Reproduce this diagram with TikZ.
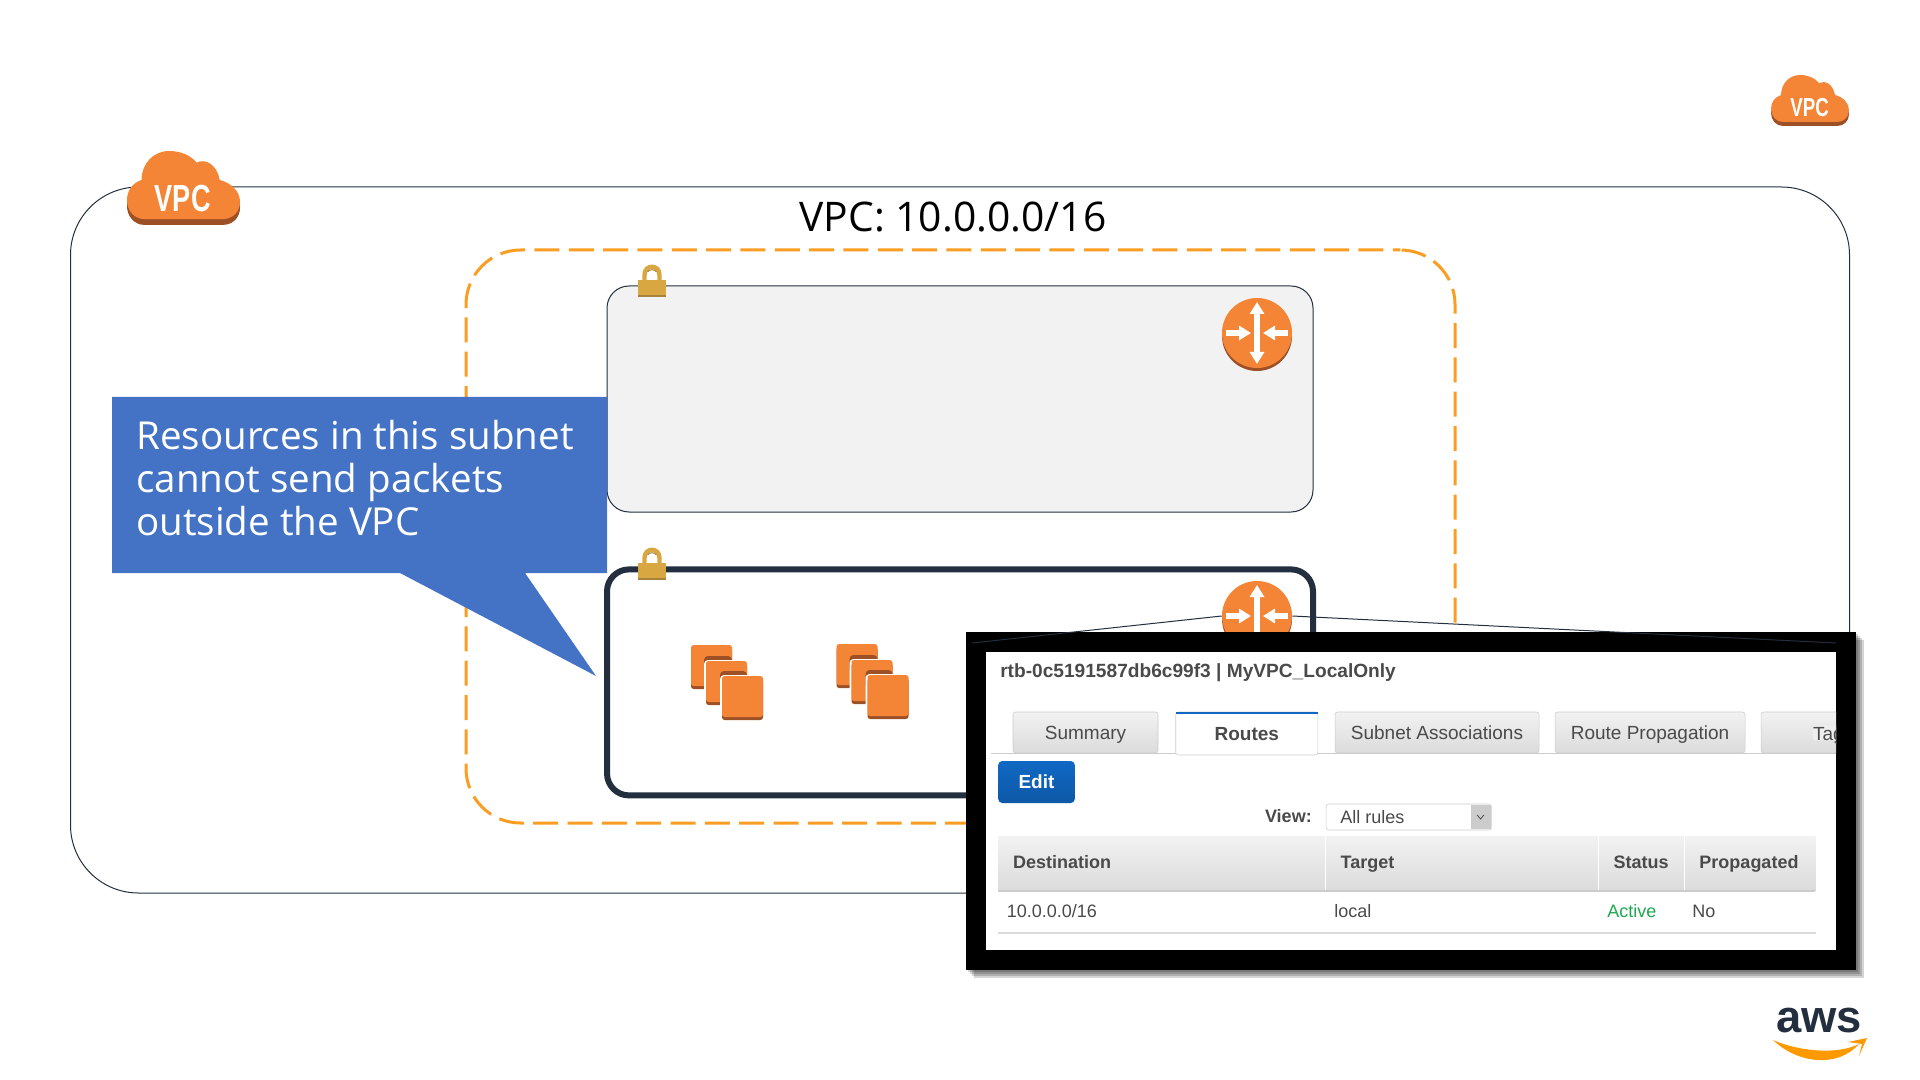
\documentclass[tikz,border=0pt]{standalone}
\usepackage{fontspec}
\usepackage{xcolor}
\setmainfont{Open Sans}
\newfontfamily\uifont{Liberation Sans}
\usetikzlibrary{arrows.meta, positioning, shadows}

\definecolor{awsink}{HTML}{232F3E}
\definecolor{cloudorange}{HTML}{F58536}
\definecolor{clouddark}{HTML}{9D5025}
\definecolor{dashorange}{HTML}{FA9D22}
\definecolor{subnetgrey}{HTML}{F2F2F2}
\definecolor{lockgold}{HTML}{D9A741}
\definecolor{lockbrown}{HTML}{A9833B}
\definecolor{calloutblue}{HTML}{4472C4}
\definecolor{uitext}{HTML}{4A4A4A}
\definecolor{uiline}{HTML}{CCCCCC}
\definecolor{uiblue}{HTML}{1068C4}
\definecolor{uigreen}{HTML}{1DA851}
\definecolor{smileorange}{HTML}{FF9900}

\tikzset{
    cloud outline/.style={insert path={(12,47) .. controls (5,47) and (0,41) .. (0,34) .. controls (0,27) and (4,22) .. (10,20)
        .. controls (10,9) and (18,0) .. (29,0) .. controls (37,0) and (44,3) .. (48,8)
        .. controls (54,5) and (62,9) .. (64,20) .. controls (72,22) and (78,28) .. (78,35)
        .. controls (78,42) and (73,47) .. (66,47) -- cycle}},
    vpccloud/.pic={
        \fill[clouddark, shift={(0,4)}, cloud outline];
        \fill[cloudorange, cloud outline];
        \node[transform shape, xscale=0.72, text=white, inner sep=0pt, font=\uifont\bfseries\fontsize{19.5}{20}\selectfont] (-label) at (38.5,32.5) {VPC};
    },
    padlock/.pic={
        \draw[lockgold, line width=3.3pt] (-7.5,0) -- (-7.5,-5) .. controls (-7.5,-16) and (7.5,-16) .. (7.5,-5) -- (7.5,0);
        \draw[lockbrown, line width=0.75pt] (-4.5,-8) .. controls (-3,-11) and (3,-11) .. (4.5,-8);
        \fill[lockgold] (-14,0) rectangle (14,15);
        \fill[lockbrown] (-14,15) rectangle (14,17);
    },
    ec2stack/.pic={
        \fill[clouddark, rounded corners=2pt] (0,3) rectangle (41,44);
        \fill[cloudorange, rounded corners=2pt] (0,0) rectangle (41,41);
        \fill[clouddark, rounded corners=3pt] (13,11) rectangle (41,30);
        \fill[white, rounded corners=3pt] (13,15) rectangle (59,63);
        \fill[clouddark, rounded corners=2pt] (15,19) rectangle (56,60);
        \fill[cloudorange, rounded corners=2pt] (15,16) rectangle (56,57);
        \fill[clouddark, rounded corners=3pt] (29,26) rectangle (56,45);
        \fill[white, rounded corners=3pt] (29,30) rectangle (75,78);
        \fill[clouddark, rounded corners=2pt] (31,34) rectangle (72,75);
        \fill[cloudorange, rounded corners=2pt] (31,31) rectangle (72,72);
    },
    routerarrows/.pic={
        \draw[routerarrow] (-31,0) -- (-6,0);
        \draw[routerarrow] (31,0) -- (6,0);
        \draw[routerarrow, {Triangle[length=9pt,width=10.5pt]}-{Triangle[length=9pt,width=10.5pt]}] (0,-31) -- (0,31);
    }
}

\begin{document}
\begin{tikzpicture}[
        x=0.75pt, y=-0.75pt,
        vpcbox/.style={rectangle, draw=awsink, line width=0.75pt, outer sep=0pt, rounded corners=51pt, minimum width=1334.25pt, minimum height=529.5pt},
        azbox/.style={rectangle, draw=dashorange, line width=2.25pt, dash pattern=on 18.75pt off 7pt, dash phase=13.1pt, outer sep=0pt, rounded corners=41pt, minimum width=741.75pt, minimum height=429.75pt},
        subnetbox/.style={rectangle, outer sep=0pt, rounded corners=16.5pt, minimum width=529.5pt, minimum height=169.5pt},
        routerdisc/.style={circle, fill=cloudorange, inner sep=0pt, minimum size=52.5pt, general shadow={fill=clouddark, shadow yshift=-2.25pt}},
        routerarrow/.style={white, line width=4.5pt, -{Triangle[length=9pt,width=10.5pt]}},
        zoomline/.style={draw=awsink, line width=0.75pt},
        uilabel/.style={font=\uifont\fontsize{13.5}{15}\selectfont, text=uitext, inner sep=0pt},
        uihead/.style={uilabel, font=\uifont\bfseries\fontsize{13.5}{15}\selectfont},
        tabbox/.style={rectangle, draw=uiline, top color=subnetgrey, bottom color=uiline!70, rounded corners=2pt, outer sep=0pt, inner sep=0pt, minimum height=30.75pt, text height=11.2pt, text depth=0pt, font=\uifont\fontsize{14.25}{15}\selectfont, text=uitext},
        hdrcell/.style={uihead, rectangle, top color=subnetgrey, bottom color=uiline!70, outer sep=0pt, inner ysep=0pt, inner xsep=11.25pt, minimum height=41.25pt, align=left, text height=10pt, text depth=3pt}
    ]
    \useasboundingbox (0,0) rectangle (1920,1080);

    % VPC and subnets
    \node[vpcbox] (vpc) at (960,540) {};
    \pic[scale=1.449] (vpcmain) at (127,151) {vpccloud};
    \pic (vpccorner) at (1771,75) {vpccloud};
    \node[font=\fontsize{30.6}{32}\selectfont, inner sep=0pt] (vpctitle) at (953,217) {VPC: 10.0.0.0/16};
    \node[azbox] (az) at (960.5,536.5) {};
    \node[subnetbox, draw=awsink, line width=0.75pt, fill=subnetgrey] (pubnet) at (960,399) {};
    \node[subnetbox, draw=awsink, line width=4.5pt, fill=white] (privnet) at (960,682.4) {};
    \pic at (652,280) {padlock};
    \pic at (652,563) {padlock};
    \node[routerdisc] (routera) at (1257,333) {};
    \pic at (routera) {routerarrows};
    \node[routerdisc] (routerb) at (1257,616) {};
    \pic at (routerb) {routerarrows};
    \pic at (691,645) {ec2stack};
    \pic at (836.5,644) {ec2stack};

    % Callout
    \fill[calloutblue] (112,397) -- (607,397) -- (607,573) -- (525,573) -- (596,676) -- (400,573) -- (112,573) -- cycle;
    \node[anchor=west, align=left, text=white, inner sep=0pt, font=\fontsize{28.9}{32.25}\selectfont] (calloutnote) at (136,478) {Resources in this subnet\\cannot send packets\\outside the VPC};

    % Route table screenshot
    \foreach \d in {2,4,6,8} {
        \fill[black, opacity=0.17] (966+\d,632+\d) rectangle (1856+\d,970+\d);
    }
    \node[rectangle, fill=black, outer sep=0pt, minimum width=667.5pt, minimum height=253.5pt] (zoomframe) at (1411,801) {};
    \node[rectangle, fill=white, outer sep=0pt, minimum width=637.5pt, minimum height=223.5pt] (zoompage) at (1411,801) {};
    \coordinate (zoomleft) at (972,643);
    \coordinate (zoomright) at (1836,643);
    \draw[zoomline] (routerb.west) -- (zoomleft);
    \draw[zoomline] (routerb.east) -- (zoomright);

    \begin{scope}
        \clip (zoompage.south west) rectangle (zoompage.north east);
        \node[uihead, anchor=base west, font=\uifont\bfseries\fontsize{14.35}{15}\selectfont] (rtbname) at (1000,677) {rtb-0c5191587db6c99f3 | MyVPC\_LocalOnly};

        \draw[uiline] (991,753) -- (1836,753);
        \node[tabbox, minimum width=108.75pt] (tabsummary) at (1085.5,732.5) {Summary};
        \node[tabbox, minimum width=106.5pt, top color=white, bottom color=white, font=\uifont\bfseries\fontsize{14.25}{15}\selectfont, minimum height=32.25pt] (tabroutes) at (1246.75,733.5) {Routes};
        \draw[uiblue, line width=2pt] ([yshift=-0.75pt]tabroutes.north west) -- ([yshift=-0.75pt]tabroutes.north east);
        \node[tabbox, minimum width=153pt] (tabassoc) at (1437,732.5) {Subnet Associations};
        \node[tabbox, minimum width=142.5pt] (tabprop) at (1650,732.5) {Route Propagation};
        \node[tabbox, minimum width=90pt] (tabtags) at (1821,732.5) {};
        \node[tabbox, anchor=west, draw=none, top color=subnetgrey!90!uiline, bottom color=subnetgrey!90!uiline, minimum height=0pt] (tagtext) at (1813,733) {Tag};

        \node[rectangle, top color=uiblue, bottom color=uiblue!85!black, rounded corners=3pt, outer sep=0pt, inner sep=0pt, minimum width=57.4pt, minimum height=31.5pt, text=white, font=\uifont\bfseries\fontsize{14.25}{15}\selectfont] (editbtn) at (1036.5,782) {Edit};

        \node[uihead, anchor=base east] (viewlabel) at (1312,822) {View:};
        \node[rectangle, draw=uiline, fill=white, rounded corners=2pt, outer sep=0pt, minimum width=124pt, minimum height=19.5pt] (viewselect) at (1408.75,817) {};
        \node[rectangle, fill=uiline, outer sep=0pt, minimum width=15pt, minimum height=18pt] (viewarrow) at (1480.5,817) {};
        \draw[uitext, line width=0.6pt] ([shift={(-2.5pt,1.5pt)}]viewarrow.center) -- ([yshift=-1.5pt]viewarrow.center) -- ([shift={(2.5pt,1.5pt)}]viewarrow.center);
        \node[uilabel, anchor=base west] (viewvalue) at (1340,823) {All rules};

        % Table
        \node[hdrcell, text width=223.2pt] (hdrdest) at (1161.8,863.5) {Destination};
        \node[hdrcell, right=0pt of hdrdest, text width=182.3pt] (hdrtarget) {Target};
        \node[hdrcell, right=0pt of hdrtarget, text width=41.85pt] (hdrstatus) {Status};
        \node[hdrcell, right=0pt of hdrstatus, text width=75.75pt] (hdrprop) {Propagated};
        \draw[white] (hdrtarget.north west) -- (hdrtarget.south west);
        \draw[white] (hdrstatus.north west) -- (hdrstatus.south west);
        \draw[white] (hdrprop.north west) -- (hdrprop.south west);
        \draw[uiline, line width=1pt] (hdrdest.south west) -- (hdrprop.south east);

        \node[uilabel, anchor=base west] (rowdest) at (1006.5,917) {10.0.0.0/16};
        \node[uilabel, anchor=base west] (rowtarget) at (1334,917) {local};
        \node[uilabel, anchor=base west, text=uigreen] (rowstatus) at (1607,917) {Active};
        \node[uilabel, anchor=base west] (rowprop) at (1692,917) {No};
        \coordinate (rowstart) at (998,933);
        \coordinate (rowend) at (1815.5,933);
        \draw[subnetgrey!90!black, line width=1.2pt] (rowstart) -- (rowend);
    \end{scope}

    % Logo
    \node[anchor=base, inner sep=0pt, text=awsink, font=\uifont\bfseries\fontsize{34}{36}\selectfont] (awslogo) at (1819,1032) {aws};
    \fill[smileorange] (1773,1040) .. controls (1795,1050) and (1835,1056) .. (1859,1044) .. controls (1838,1068) and (1798,1064) .. (1773,1040) -- cycle;
    \fill[smileorange] (1848,1042) -- (1867,1038) -- (1859,1056) -- (1862,1044) -- cycle;
\end{tikzpicture}
\end{document}
